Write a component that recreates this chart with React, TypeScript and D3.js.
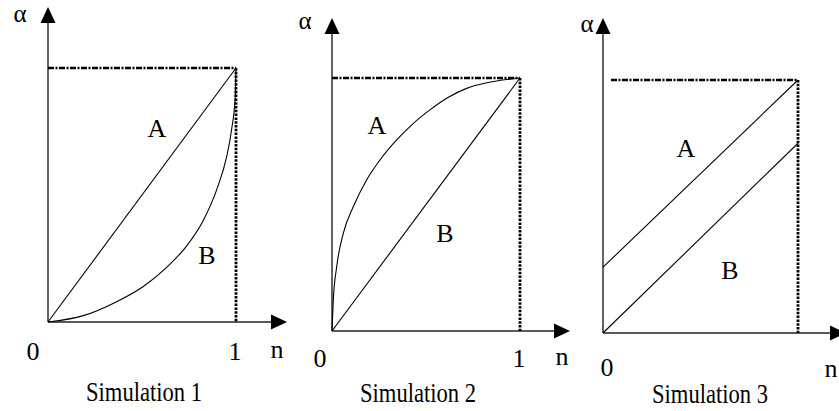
import React from "react";
import * as d3 from "d3";

// ---- data (n, alpha) ----
const sim1A: [number, number][] = [[0, 0], [1, 1]];
const sim1B: [number, number][] = [
  [0, 0], [0.188, 0.025], [0.365, 0.08], [0.507, 0.14], [0.631, 0.215],
  [0.738, 0.3], [0.826, 0.4], [0.897, 0.52], [0.95, 0.65], [0.977, 0.76],
  [0.995, 0.88], [1, 1],
];
const sim2A: [number, number][] = [
  [0, 0], [0.007, 0.123], [0.025, 0.254], [0.06, 0.386], [0.113, 0.491],
  [0.184, 0.597], [0.255, 0.676], [0.344, 0.755], [0.433, 0.821], [0.521, 0.874],
  [0.61, 0.92], [0.716, 0.959], [0.823, 0.981], [0.929, 0.994], [1, 1],
];
const sim2B: [number, number][] = [[0, 0], [1, 1]];
const sim3A: [number, number][] = [[0, 0.26], [1, 1]];
const sim3B: [number, number][] = [[0, 0], [1, 0.75]];

const titles = ["Simulation 1", "Simulation 2", "Simulation 3"];
const curveLabels = ["A", "B"];
const tickZero = "0";
const tickOne = "1";
const xName = "n";
const yName = "α";

type Layout = {
  x0: number; y0: number; w: number; h: number;
  yTip: number; xTip: number; dashStart: number;
  alpha: [number, number]; zero: [number, number]; one: [number, number] | null;
  n: [number, number]; title: [number, number]; A: [number, number]; B: [number, number];
};

const layouts: Layout[] = [
  { x0: 48, y0: 322, w: 188, h: 254, yTip: 7, xTip: 287, dashStart: 48,
    alpha: [20, 16], zero: [33, 351], one: [235, 351], n: [277, 352], title: [144, 393],
    A: [157, 128], B: [207, 255] },
  { x0: 332, y0: 331, w: 188, h: 253, yTip: 18, xTip: 570, dashStart: 332,
    alpha: [305, 23], zero: [320, 358], one: [519, 358], n: [562, 359], title: [418, 394],
    A: [377, 125], B: [445, 233] },
  { x0: 603, y0: 333, w: 195, h: 253, yTip: 18, xTip: 846, dashStart: 611,
    alpha: [587, 26], zero: [607, 367], one: null, n: [831, 371], title: [710, 395],
    A: [686, 148], B: [730, 270] },
];

const series: [number, number][][][] = [
  [sim1A, sim1B],
  [sim2A, sim2B],
  [sim3A, sim3B],
];

const FONT = "Liberation Serif, Times New Roman, DejaVu Serif, serif";
const FS = 26;

function Label({ p, text, kind = "cap", fs = FS }: { p: [number, number]; text: string; kind?: string; fs?: number }) {
  const dy = kind === "x" ? fs * 0.22 : fs * 0.33;
  return (
    <text x={p[0]} y={p[1] + dy} textAnchor="middle" style={{ fontFamily: FONT, fontSize: fs }} fill="#000">
      {text}
    </text>
  );
}

function Panel({ L, data, title }: { L: Layout; data: [number, number][][]; title: string }) {
  const x = d3.scaleLinear().domain([0, 1]).range([L.x0, L.x0 + L.w]);
  const y = d3.scaleLinear().domain([0, 1]).range([L.y0, L.y0 - L.h]);
  const line = d3.line<[number, number]>()
    .x((d) => x(d[0]))
    .y((d) => y(d[1]))
    .curve(d3.curveMonotoneX);
  const ah = 16;
  const aw = 7.5;
  return (
    <g>
      <line x1={L.x0} y1={L.y0} x2={L.x0} y2={L.yTip + ah - 1} stroke="#222" strokeWidth={1.4} />
      <line x1={L.x0} y1={L.y0} x2={L.xTip - ah + 1} y2={L.y0} stroke="#222" strokeWidth={1.4} />
      <path d={`M${L.x0},${L.yTip}L${L.x0 - aw},${L.yTip + ah}L${L.x0 + aw},${L.yTip + ah}Z`} fill="#000" />
      <path d={`M${L.xTip},${L.y0}L${L.xTip - ah},${L.y0 - aw}L${L.xTip - ah},${L.y0 + aw}Z`} fill="#000" />
      <line x1={L.dashStart} y1={y(1)} x2={x(1)} y2={y(1)} stroke="#000" strokeWidth={2.6}
        strokeDasharray="6 1.5 2 1.5" />
      <line x1={x(1)} y1={y(1)} x2={x(1)} y2={L.y0} stroke="#000" strokeWidth={2.8}
        strokeDasharray="2.5 1.3" />
      {data.map((d, i) => (
        <path key={i} d={line(d) || ""} fill="none" stroke="#000" strokeWidth={1.1} />
      ))}
      <Label p={L.alpha} text={yName} kind="x" fs={25} />
      <Label p={L.zero} text={tickZero} />
      {L.one && <Label p={L.one} text={tickOne} />}
      <Label p={L.n} text={xName} kind="x" />
      <Label p={L.A} text={curveLabels[0]} />
      <Label p={L.B} text={curveLabels[1]} />
      <text x={L.title[0]} y={L.title[1] + 8} textAnchor="middle"
        style={{ fontFamily: FONT, fontSize: 27 }}
        textLength={116} lengthAdjust="spacingAndGlyphs" fill="#000">
        {title}
      </text>
    </g>
  );
}

export default function App() {
  return (
    <svg width={839} height={411} style={{ position: "absolute", left: 0, top: 0, background: "#fff" }}>
      <rect x={0} y={0} width={839} height={411} fill="#fff" />
      {layouts.map((L, i) => (
        <Panel key={i} L={L} data={series[i]} title={titles[i]} />
      ))}
    </svg>
  );
}
